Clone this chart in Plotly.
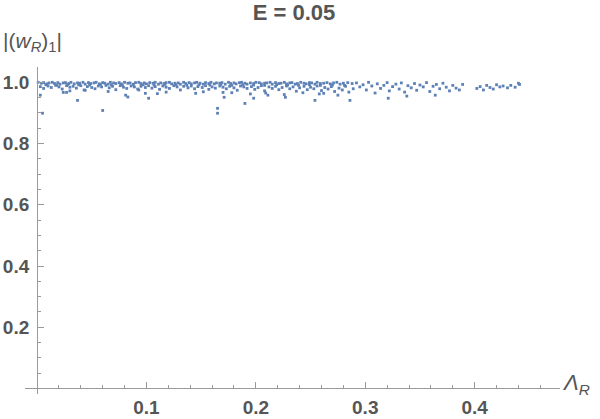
"""
Scatter of |(w_R)_1| against Lambda_R at E = 0.05
Mathematica-style plot redrawn with Plotly.
"""

import plotly.graph_objects as go


# ==============================
# Data
# ==============================

# dense band sitting right at 1.0
band_x = [
    0.001, 0.004, 0.006, 0.009, 0.011, 0.014, 0.016, 0.019, 0.021, 0.024,
    0.026, 0.029, 0.031, 0.034, 0.037, 0.039, 0.042, 0.044, 0.047, 0.049,
    0.052, 0.054, 0.057, 0.060, 0.062, 0.065, 0.067, 0.070, 0.072, 0.075,
    0.077, 0.080, 0.083, 0.085, 0.088, 0.090, 0.093, 0.095, 0.098, 0.100,
    0.103, 0.106, 0.108, 0.111, 0.113, 0.116, 0.118, 0.121, 0.123, 0.126,
    0.129, 0.131, 0.134, 0.136, 0.139, 0.141, 0.144, 0.146, 0.149, 0.152,
    0.154, 0.157, 0.159, 0.162, 0.164, 0.167, 0.169, 0.172, 0.175, 0.177,
    0.180, 0.182, 0.185, 0.187, 0.190, 0.192, 0.195, 0.198, 0.200, 0.203,
    0.205, 0.208, 0.210, 0.213, 0.215, 0.218, 0.221, 0.223, 0.226, 0.228,
    0.231, 0.233, 0.236, 0.238, 0.241, 0.244, 0.246, 0.249, 0.251, 0.254,
    0.256, 0.259, 0.262, 0.265, 0.268, 0.271, 0.274, 0.277, 0.280, 0.284,
    0.288,
]
band_y = [
    1.000, 0.997, 0.999, 0.995, 0.998, 1.000, 0.996, 0.999, 0.994, 0.998,
    0.999, 0.996, 1.000, 0.995, 0.998, 0.997, 1.000, 0.994, 0.999, 0.996,
    0.998, 1.000, 0.995, 0.999, 0.997, 0.994, 1.000, 0.998, 0.996, 0.999,
    0.995, 1.000, 0.997, 0.998, 0.994, 0.999, 1.000, 0.996, 0.998, 0.995,
    0.999, 0.997, 1.000, 0.994, 0.998, 0.996, 0.999, 1.000, 0.995, 0.997,
    0.998, 0.994, 1.000, 0.996, 0.999, 0.995, 0.998, 1.000, 0.997, 0.994,
    0.999, 0.996, 1.000, 0.995, 0.998, 0.997, 0.999, 0.994, 1.000, 0.996,
    0.998, 0.995, 0.999, 1.000, 0.997, 0.994, 0.998, 0.996, 1.000, 0.999,
    0.995, 0.997, 0.998, 1.000, 0.994, 0.999, 0.996, 0.997, 1.000, 0.995,
    0.998, 0.999, 0.994, 0.996, 1.000, 0.997, 0.995, 0.999, 0.998, 0.994,
    1.000, 0.996, 0.997, 0.999, 0.995, 0.998, 1.000, 0.994, 0.997, 0.999,
    0.996,
]

# points spread just under the band
spread_x = [
    0.003, 0.006, 0.010, 0.013, 0.017, 0.020, 0.023, 0.027, 0.030, 0.033,
    0.036, 0.040, 0.043, 0.046, 0.050, 0.053, 0.056, 0.059, 0.063, 0.066,
    0.069, 0.072, 0.076, 0.079, 0.082, 0.086, 0.089, 0.092, 0.095, 0.099,
    0.102, 0.105, 0.108, 0.112, 0.115, 0.118, 0.121, 0.125, 0.128, 0.131,
    0.134, 0.138, 0.141, 0.144, 0.147, 0.151, 0.154, 0.157, 0.160, 0.163,
    0.167, 0.170, 0.173, 0.176, 0.180, 0.183, 0.186, 0.189, 0.192, 0.196,
    0.199, 0.202, 0.205, 0.208, 0.212, 0.215, 0.218, 0.221, 0.224, 0.228,
    0.231, 0.234, 0.237, 0.240, 0.244, 0.247, 0.250, 0.253, 0.256, 0.260,
    0.263, 0.266, 0.269, 0.272, 0.276, 0.279, 0.282, 0.285, 0.289,
    0.008, 0.018, 0.028, 0.038, 0.048, 0.058, 0.068, 0.078, 0.088, 0.097,
    0.107, 0.117, 0.127, 0.137, 0.148, 0.158, 0.168, 0.178, 0.188, 0.198,
    0.208, 0.219, 0.229, 0.239, 0.249, 0.259, 0.270, 0.281,
    0.152, 0.178, 0.195, 0.209, 0.226, 0.243, 0.258, 0.275, 0.030, 0.065,
    0.118,
]
spread_y = [
    0.986, 0.980, 0.988, 0.983, 0.990, 0.985, 0.978, 0.989, 0.984, 0.987,
    0.981, 0.989, 0.975, 0.986, 0.983, 0.979, 0.988, 0.985, 0.990, 0.982,
    0.987, 0.976, 0.989, 0.984, 0.980, 0.988, 0.985, 0.978, 0.987, 0.983,
    0.989, 0.981, 0.986, 0.977, 0.988, 0.984, 0.980, 0.989, 0.985, 0.975,
    0.987, 0.982, 0.988, 0.979, 0.986, 0.983, 0.989, 0.977, 0.985, 0.981,
    0.988, 0.984, 0.979, 0.987, 0.982, 0.974, 0.988, 0.985, 0.980, 0.986,
    0.977, 0.983, 0.989, 0.972, 0.985, 0.980, 0.987, 0.976, 0.983, 0.988,
    0.979, 0.985, 0.971, 0.982, 0.987, 0.976, 0.984, 0.979, 0.988, 0.973,
    0.983, 0.978, 0.986, 0.970, 0.981, 0.975, 0.987, 0.968, 0.979,
    0.992, 0.991, 0.993, 0.992, 0.991, 0.993, 0.992, 0.991, 0.993, 0.992,
    0.991, 0.993, 0.992, 0.990, 0.992, 0.991, 0.993, 0.990, 0.992, 0.991,
    0.990, 0.992, 0.991, 0.990, 0.992, 0.990, 0.991, 0.990,
    0.969, 0.966, 0.962, 0.965, 0.960, 0.966, 0.962, 0.958, 0.972, 0.970,
    0.968,
]

# thinner tail towards larger Lambda_R
tail_x = [
    0.292, 0.295, 0.298, 0.301, 0.303, 0.306, 0.309, 0.311, 0.314, 0.317,
    0.320, 0.322, 0.325, 0.328, 0.331, 0.333, 0.336, 0.339, 0.342, 0.345,
    0.347, 0.350, 0.353, 0.356, 0.359, 0.362, 0.365, 0.368, 0.371, 0.374,
    0.377, 0.380, 0.383, 0.386, 0.389,
    0.402, 0.405, 0.408, 0.411, 0.414, 0.417, 0.420, 0.423, 0.426, 0.430,
    0.433, 0.437, 0.440, 0.441,
]
tail_y = [
    0.998, 0.985, 0.992, 0.975, 1.000, 0.988, 0.965, 0.995, 0.980, 0.990,
    0.999, 0.972, 0.986, 0.994, 0.978, 0.998, 0.968, 0.989, 0.982, 0.996,
    0.974, 0.991, 0.985, 0.999, 0.970, 0.987, 0.993, 0.979, 0.997, 0.984,
    0.972, 0.990, 0.981, 0.975, 0.993,
    0.980, 0.986, 0.975, 0.990, 0.983, 0.978, 0.992, 0.985, 0.988, 0.982,
    0.990, 0.984, 0.997, 0.993,
]

# isolated points further down
low_x = [
    0.003, 0.005, 0.024, 0.027, 0.037, 0.044, 0.060, 0.081, 0.083, 0.093,
    0.099, 0.102, 0.110, 0.145, 0.165, 0.165, 0.170, 0.171, 0.190, 0.198,
    0.211, 0.227, 0.254, 0.262, 0.286, 0.321, 0.338, 0.364,
]
low_y = [
    0.958, 0.899, 0.967, 0.967, 0.941, 0.974, 0.908, 0.958, 0.952, 0.975,
    0.964, 0.948, 0.963, 0.964, 0.915, 0.899, 0.967, 0.951, 0.931, 0.948,
    0.958, 0.951, 0.941, 0.964, 0.941, 0.948, 0.955, 0.958,
]

x_ticks = [0.1, 0.2, 0.3, 0.4]
y_ticks = [0.2, 0.4, 0.6, 0.8, 1.0]


# ==============================
# Figure
# ==============================

AXIS_GREY = "#9a9a9a"
TEXT_GREY = "#555555"
POINT_BLUE = "#5E81B5"

fig = go.Figure()

fig.add_trace(
    go.Scatter(
        x=band_x + spread_x + tail_x + low_x,
        y=band_y + spread_y + tail_y + low_y,
        mode="markers",
        marker=dict(color=POINT_BLUE, size=2.8, symbol="square", line=dict(width=0)),
        showlegend=False,
        hoverinfo="skip",
    )
)

x_range = [-0.011, 0.478]
y_range = [-0.018, 1.05]

tick_font = dict(size=19, weight="bold", color=TEXT_GREY)

fig.update_layout(
    width=600,
    height=419,
    margin=dict(l=25, r=40, t=67, b=25),
    paper_bgcolor="white",
    plot_bgcolor="white",
    font=dict(family="Liberation Sans, Arial, sans-serif", color=TEXT_GREY),
    title=dict(
        text="E = 0.05",
        x=0.49,
        xref="container",
        y=0.971,
        yref="container",
        xanchor="center",
        yanchor="middle",
        font=dict(size=22, weight="bold", color=TEXT_GREY),
    ),
    xaxis=dict(
        range=x_range,
        automargin=False,
        anchor="free",
        position=(0 - y_range[0]) / (y_range[1] - y_range[0]),
        showline=True,
        linecolor=AXIS_GREY,
        linewidth=1,
        showgrid=False,
        zeroline=False,
        tickvals=x_ticks,
        ticktext=[f"{v:.1f}" for v in x_ticks],
        ticks="inside",
        ticklen=6,
        tickcolor=AXIS_GREY,
        tickfont=tick_font,
        ticklabelstandoff=2,
        minor=dict(ticks="inside", ticklen=3, tickcolor=AXIS_GREY, dtick=0.02, tick0=0, showgrid=False),
    ),
    yaxis=dict(
        range=y_range,
        automargin=False,
        anchor="free",
        position=(0 - x_range[0]) / (x_range[1] - x_range[0]),
        showline=True,
        linecolor=AXIS_GREY,
        linewidth=1,
        showgrid=False,
        zeroline=False,
        tickvals=y_ticks,
        ticktext=[f"{v:.1f}" for v in y_ticks],
        ticks="inside",
        ticklen=6,
        tickcolor=AXIS_GREY,
        tickfont=tick_font,
        ticklabelstandoff=4,
        minor=dict(ticks="inside", ticklen=3, tickcolor=AXIS_GREY, dtick=0.05, tick0=0, showgrid=False),
    ),
)

# axis labels, Mathematica style
fig.add_annotation(
    text="|(<i>w</i><sub><i>R</i></sub>)<sub>1</sub>|",
    xref="paper", yref="paper",
    x=-0.045, y=1.076,
    xanchor="left", yanchor="middle",
    showarrow=False,
    font=dict(size=21, color=TEXT_GREY),
)
fig.add_annotation(
    text="<i>Λ</i><sub><i>R</i></sub>",
    xref="paper", yref="paper",
    x=1.0, y=0.03,
    xanchor="left", yanchor="middle",
    showarrow=False,
    font=dict(size=22, color=TEXT_GREY),
)

# the page body has an 8px default margin; drop it so the figure sits at 0,0
fig.write_html(
    "out.html",
    config={"displayModeBar": False},
    post_script="document.body.style.margin='0';",
)
